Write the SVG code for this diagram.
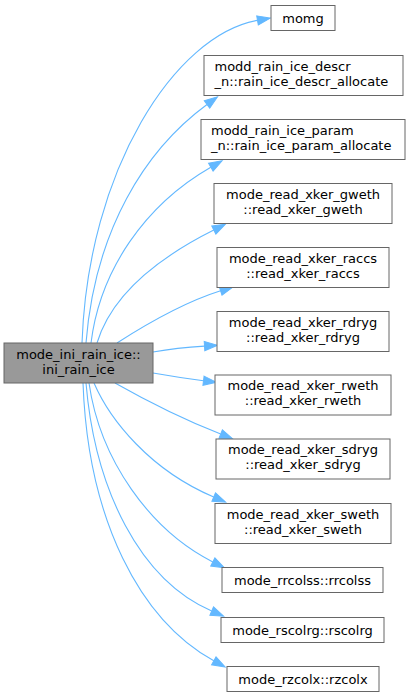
<svg xmlns="http://www.w3.org/2000/svg" width="411" height="697" viewBox="0 0 411 697">
<style>
.n rect{fill:#ffffff;stroke:#666666;stroke-width:1}
#main rect{fill:#999999;stroke:#666666}
text{font-family:"DejaVu Sans",sans-serif;font-size:13px;fill:#000000}
.c{text-anchor:middle}
.e path{fill:none;stroke:#63b8ff;stroke-width:1.1;marker-end:url(#ah)}
</style>
<defs>
<marker id="ah" markerUnits="userSpaceOnUse" markerWidth="14" markerHeight="10" refX="0" refY="0" orient="auto" overflow="visible">
<path d="M0,-4.6 L13,0 L0,4.6 z" fill="#63b8ff" stroke="#63b8ff" stroke-width="1"/>
</marker>
</defs>
<rect width="411" height="697" fill="#ffffff"/>
<g class="e" id="edges">
<path d="M82,343 C88,170 175,35 257.5,20.4"/>
<path d="M86,343 C95,230 145,150 207,104.5"/>
<path d="M91,343 C100,270 145,205 210.8,167.2"/>
<path d="M97,343 C110,300 150,262 213.8,230.1"/>
<path d="M117,343 C145,325 185,302 220.6,290.8"/>
<path d="M153,352 C170,349 190,347 204.5,346.1"/>
<path d="M153,373 C170,376 190,379 203.5,380.7"/>
<path d="M115,383 C145,400 185,420 220.7,434.1"/>
<path d="M94,383 C110,420 150,470 213.7,497"/>
<path d="M89,383 C100,460 150,530 212.8,561.9"/>
<path d="M86,383 C95,490 140,580 211.7,611"/>
<path d="M83,383 C88,520 140,620 213.8,660.8"/>
</g>
<g id="main"><rect x="4" y="343" width="149" height="40"/><text class="c" x="78.5" y="358.5">mode_ini_rain_ice::</text><text class="c" x="78.5" y="373.5">ini_rain_ice</text></g>
<g class="n" id="momg"><rect x="271" y="5.5" width="64" height="25"/><text class="c" x="303" y="22.5">momg</text></g>
<g class="n" id="descr"><rect x="204" y="55.5" width="199" height="40"/><text x="214.5" y="71">modd_rain_ice_descr</text><text x="214.5" y="86">_n::rain_ice_descr_allocate</text></g>
<g class="n" id="param"><rect x="201" y="119.5" width="204" height="40"/><text x="211" y="135">modd_rain_ice_param</text><text x="211" y="150">_n::rain_ice_param_allocate</text></g>
<g class="n" id="gweth"><rect x="214" y="183.5" width="178" height="40"/><text class="c" x="303" y="198.5">mode_read_xker_gweth</text><text class="c" x="303" y="213.5">::read_xker_gweth</text></g>
<g class="n" id="raccs"><rect x="217" y="247.5" width="172" height="40"/><text class="c" x="303" y="262.5">mode_read_xker_raccs</text><text class="c" x="303" y="277.5">::read_xker_raccs</text></g>
<g class="n" id="rdryg"><rect x="217" y="311.5" width="172" height="40"/><text class="c" x="303" y="326.5">mode_read_xker_rdryg</text><text class="c" x="303" y="341.5">::read_xker_rdryg</text></g>
<g class="n" id="rweth"><rect x="215" y="375" width="176" height="40"/><text class="c" x="303" y="390">mode_read_xker_rweth</text><text class="c" x="303" y="405">::read_xker_rweth</text></g>
<g class="n" id="sdryg"><rect x="216" y="439" width="174" height="40"/><text class="c" x="303" y="454">mode_read_xker_sdryg</text><text class="c" x="303" y="469">::read_xker_sdryg</text></g>
<g class="n" id="sweth"><rect x="215" y="503.5" width="176" height="40"/><text class="c" x="303" y="518.5">mode_read_xker_sweth</text><text class="c" x="303" y="533.5">::read_xker_sweth</text></g>
<g class="n" id="rrcolss"><rect x="222" y="567.5" width="161" height="25"/><text class="c" x="302.5" y="584.5">mode_rrcolss::rrcolss</text></g>
<g class="n" id="rscolrg"><rect x="221" y="617.5" width="163" height="25"/><text class="c" x="302.5" y="634.5">mode_rscolrg::rscolrg</text></g>
<g class="n" id="rzcolx"><rect x="227" y="666.5" width="152" height="25"/><text class="c" x="303" y="683.5">mode_rzcolx::rzcolx</text></g>
</svg>
